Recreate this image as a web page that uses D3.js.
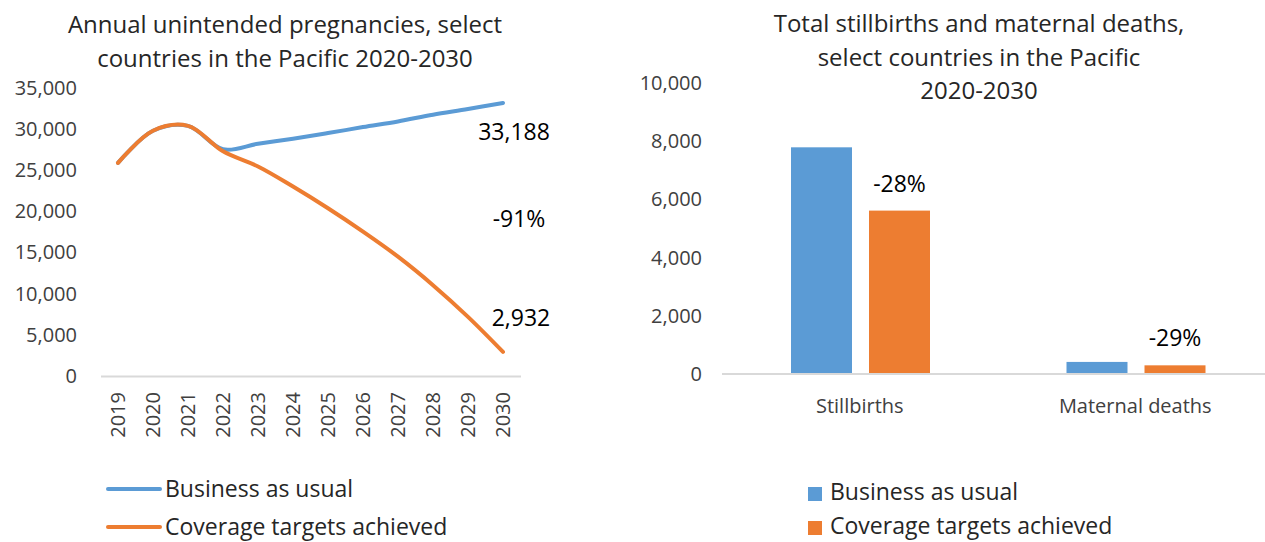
<!DOCTYPE html>
<html>
<head>
<meta charset="utf-8">
<script src="https://cdn.jsdelivr.net/npm/d3@7"></script>
<style>
  body { margin: 0; background: #fff; }
  text { font-family: "Open Sans", sans-serif; }
</style>
</head>
<body>
<div id="chart"></div>
<script>
// data
var years = [2019, 2020, 2021, 2022, 2023, 2024, 2025, 2026, 2027, 2028, 2029, 2030];
var businessAsUsual = [25900, 29800, 30400, 27550, 28220, 28830, 29520, 30250, 30940, 31750, 32440, 33188];
var coverageTargets = [25900, 29800, 30400, 27300, 25460, 23020, 20380, 17540, 14500, 11040, 7190, 2932];
var lineTicks = [0, 5000, 10000, 15000, 20000, 25000, 30000, 35000];
var lineLabels = ["33,188", "-91%", "2,932"];

var barCategories = ["Stillbirths", "Maternal deaths"];
var barSeries = ["Business as usual", "Coverage targets achieved"];
var barBau = [7790, 415];
var barCov = [5615, 298];
var barLabels = ["-28%", "-29%"];
var barTicks = [0, 2000, 4000, 6000, 8000, 10000];

var colors = ["#5B9BD5", "#ED7D31"];
var axisGrey = "#D9D9D9";
var textGrey = "#404040";

var svgWidth = 1265;
var svgHeight = 542;

var svg = d3.select("#chart")
  .append("svg")
  .attr("width", svgWidth)
  .attr("height", svgHeight);

var fmt = d3.format(",");

// ---------------- left chart: line ----------------
var left = svg.append("g");

["Annual unintended pregnancies, select", "countries in the Pacific 2020-2030"]
  .forEach(function(t, i) {
    left.append("text")
      .attr("x", 285).attr("y", 33 + i * 34)
      .attr("text-anchor", "middle")
      .attr("font-size", 24)
      .attr("fill", "#262626")
      .text(t);
  });

var xLine = d3.scaleBand()
  .domain(years)
  .range([100.5, 520.5]);

var yLine = d3.scaleLinear()
  .domain([0, 35000])
  .range([376, 88]);

// y tick labels
var leftAxis = d3.axisLeft(yLine)
  .tickValues(lineTicks)
  .tickFormat(fmt)
  .tickSize(0)
  .tickPadding(0);

left.append("g")
  .attr("transform", "translate(77,0)")
  .call(leftAxis)
  .call(g => g.select(".domain").remove())
  .selectAll("text")
  .attr("font-size", 20)
  .attr("font-family", "Open Sans, sans-serif")
  .attr("fill", textGrey);

// x axis
var bottomAxis = d3.axisBottom(xLine).tickSize(0).tickPadding(0);
var xg = left.append("g")
  .attr("transform", "translate(0,376)")
  .call(bottomAxis);
xg.select(".domain").attr("stroke", axisGrey).attr("stroke-width", 2);
xg.selectAll("text")
  .attr("font-size", 20)
  .attr("font-family", "Open Sans, sans-serif")
  .attr("fill", textGrey)
  .attr("text-anchor", "end")
  .attr("y", 0)
  .attr("dy", "0.35em")
  .attr("transform", "translate(0,16) rotate(-90)");

var line = d3.line()
  .x((d, i) => xLine(years[i]) + xLine.bandwidth() / 2)
  .y(d => yLine(d))
  .curve(d3.curveCatmullRom.alpha(0.5));

[businessAsUsual, coverageTargets].forEach(function(series, i) {
  left.append("path")
    .datum(series)
    .attr("d", line)
    .attr("fill", "none")
    .attr("stroke", colors[i])
    .attr("stroke-width", 4)
    .attr("stroke-linecap", "round");
});

var lastX = xLine(2030) + xLine.bandwidth() / 2;
var labelPos = [[11, 140], [16, 227], [18, 326]];
lineLabels.forEach(function(t, i) {
  left.append("text")
    .attr("x", lastX + labelPos[i][0]).attr("y", labelPos[i][1])
    .attr("text-anchor", "middle")
    .attr("font-size", 23)
    .attr("fill", "#000")
    .text(t);
});

// legend
barSeries.forEach(function(name, i) {
  var ly = 489 + i * 38;
  left.append("line")
    .attr("x1", 108).attr("x2", 160)
    .attr("y1", ly).attr("y2", ly)
    .attr("stroke", colors[i])
    .attr("stroke-width", 4)
    .attr("stroke-linecap", "round");
  left.append("text")
    .attr("x", 165).attr("y", ly + 8)
    .attr("font-size", 23)
    .attr("fill", "#262626")
    .text(name);
});

// ---------------- right chart: bars ----------------
var right = svg.append("g");

["Total stillbirths and maternal deaths,", "select countries in the Pacific", "2020-2030"]
  .forEach(function(t, i) {
    right.append("text")
      .attr("x", 979).attr("y", 32 + i * 33.5)
      .attr("text-anchor", "middle")
      .attr("font-size", 24)
      .attr("fill", "#262626")
      .text(t);
  });

var x0 = d3.scaleBand()
  .domain(barCategories)
  .range([722, 1273]);

var x1 = d3.scaleBand()
  .domain(barSeries)
  .range([69, 208])
  .paddingInner(0.218);

var yBar = d3.scaleLinear()
  .domain([0, 10000])
  .range([374, 83]);

right.append("g")
  .attr("transform", "translate(702,0)")
  .call(d3.axisLeft(yBar).tickValues(barTicks).tickFormat(fmt).tickSize(0).tickPadding(0))
  .call(g => g.select(".domain").remove())
  .selectAll("text")
  .attr("font-size", 20)
  .attr("font-family", "Open Sans, sans-serif")
  .attr("fill", textGrey);

var barRows = barCategories.map((c, i) => ({ cat: c, values: [barBau[i], barCov[i]] }));

var groups = right.selectAll(".grp")
  .data(barRows)
  .enter()
  .append("g")
  .attr("transform", d => `translate(${x0(d.cat)},0)`);

groups.selectAll("rect")
  .data(d => d.values.map((v, j) => ({ s: barSeries[j], v: v, j: j })))
  .enter()
  .append("rect")
  .attr("x", d => x1(d.s))
  .attr("width", x1.bandwidth())
  .attr("y", d => yBar(d.v))
  .attr("height", d => yBar(0) - yBar(d.v))
  .attr("fill", d => colors[d.j]);

groups.append("text")
  .attr("x", x1(barSeries[1]) + x1.bandwidth() / 2)
  .attr("y", d => yBar(d.values[1]) - 19)
  .attr("text-anchor", "middle")
  .attr("font-size", 23)
  .attr("fill", "#000")
  .text((d, i) => barLabels[i]);

// axis line, runs to the edge
right.append("line")
  .attr("x1", 722).attr("x2", svgWidth)
  .attr("y1", yBar(0)).attr("y2", yBar(0))
  .attr("stroke", axisGrey)
  .attr("stroke-width", 2);

right.append("g")
  .attr("transform", "translate(0,374)")
  .call(d3.axisBottom(x0).tickSize(0).tickPadding(0))
  .call(g => g.select(".domain").remove())
  .selectAll("text")
  .attr("font-size", 20)
  .attr("font-family", "Open Sans, sans-serif")
  .attr("fill", textGrey)
  .attr("dy", 0)
  .attr("y", 39);

barSeries.forEach(function(name, i) {
  var ly = 487 + i * 34;
  right.append("rect")
    .attr("x", 808).attr("y", ly)
    .attr("width", 14).attr("height", 14)
    .attr("fill", colors[i]);
  right.append("text")
    .attr("x", 830).attr("y", ly + 13)
    .attr("font-size", 23)
    .attr("fill", "#262626")
    .text(name);
});
</script>
</body>
</html>
